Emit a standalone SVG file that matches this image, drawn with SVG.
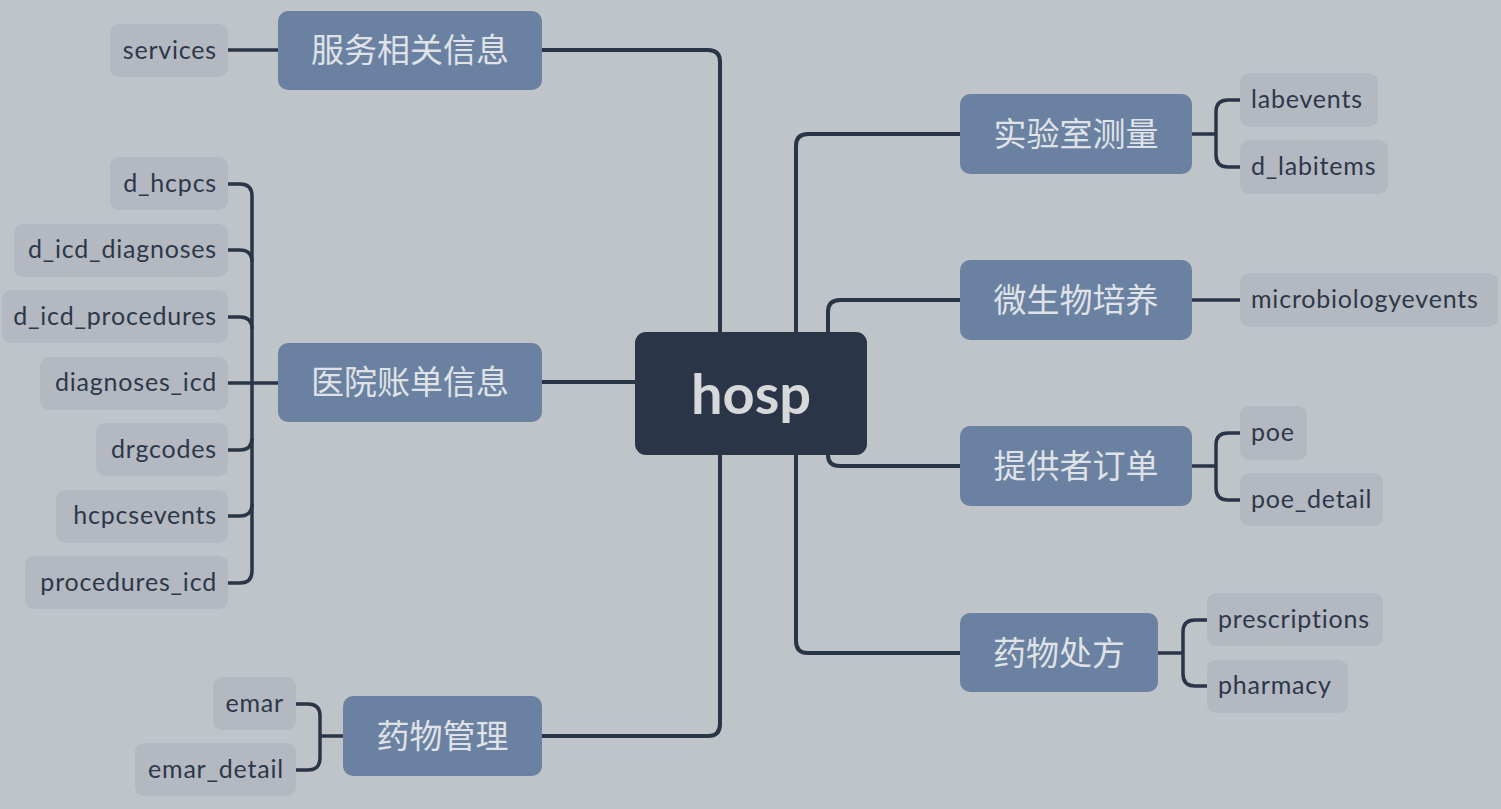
<svg xmlns="http://www.w3.org/2000/svg" width="1501" height="809" viewBox="0 0 1501 809">
<style>
.bg{fill:#bfc4c9}
.root rect{fill:#2a3648}
.root text{fill:#d6d8da;font-family:Lato,"Noto Sans",sans-serif;font-weight:bold;font-size:56px;text-anchor:middle}
.br rect{fill:#6b81a1}
.br text{fill:#dfe2e6;font-family:"Noto Sans CJK SC","Noto Sans",sans-serif;font-size:33px;text-anchor:middle}
.lf rect{fill:#b4b9c1}
.lf text{fill:#2c3849;font-family:Lato,"Noto Sans",sans-serif;font-size:25px;letter-spacing:0.8px}
.l text{text-anchor:end}
.r text{text-anchor:start}
.c path{fill:none;stroke:#2a3648;stroke-width:4;stroke-linecap:butt}
.c .t{stroke-width:3.5}
</style>
<rect class="bg" x="0" y="0" width="1501" height="809"/>
<g class="c" id="connectors">
<path d="M542,50 H708 Q720,50 720,62 V332"/>
<path d="M542,382 H635"/>
<path d="M542,736 H708 Q720,736 720,724 V455"/>
<path d="M796,332 V146 Q796,134 808,134 H960"/>
<path d="M828,332 V312 Q828,300 840,300 H960"/>
<path d="M828,455 Q828,466 840,466 H960"/>
<path d="M796,455 V641 Q796,653 808,653 H960"/>
<path class="t" d="M228,50 H278"/>
<path class="t" d="M228,184 H240 Q252,184 252,196 V571 Q252,583 240,583 H228"/>
<path class="t" d="M228,250 H240 Q252,250 252,262"/>
<path class="t" d="M228,317 H240 Q252,317 252,329"/>
<path class="t" d="M228,383 H278"/>
<path class="t" d="M228,450 H240 Q252,450 252,438"/>
<path class="t" d="M228,516 H240 Q252,516 252,504"/>
<path class="t" d="M296,704 H308 Q320,704 320,716 V758 Q320,770 308,770 H296"/>
<path class="t" d="M320,736 H343"/>
<path class="t" d="M1192,134 H1216"/>
<path class="t" d="M1240,100 H1228 Q1216,100 1216,112 V155 Q1216,167 1228,167 H1240"/>
<path class="t" d="M1192,300 H1240"/>
<path class="t" d="M1192,466 H1216"/>
<path class="t" d="M1240,433 H1228 Q1216,433 1216,445 V488 Q1216,500 1228,500 H1240"/>
<path class="t" d="M1158,653 H1183"/>
<path class="t" d="M1207,620 H1195 Q1183,620 1183,632 V674 Q1183,686 1195,686 H1207"/>
</g>
<g id="hosp" class="root"><rect x="635" y="332" width="232" height="123" rx="11"/><text x="751" y="414">hosp</text></g>
<g id="b-fuwu" class="br"><rect x="278" y="11" width="264" height="79" rx="10"/><text x="410" y="62">服务相关信息</text></g>
<g id="b-zhangdan" class="br"><rect x="278" y="343" width="264" height="79" rx="10"/><text x="410" y="394">医院账单信息</text></g>
<g id="b-guanli" class="br"><rect x="343" y="696" width="199" height="80" rx="10"/><text x="442.5" y="748">药物管理</text></g>
<g id="b-shiyan" class="br"><rect x="960" y="94" width="232" height="80" rx="10"/><text x="1076" y="146">实验室测量</text></g>
<g id="b-weisheng" class="br"><rect x="960" y="260" width="232" height="80" rx="10"/><text x="1076" y="312">微生物培养</text></g>
<g id="b-tigong" class="br"><rect x="960" y="426" width="232" height="80" rx="10"/><text x="1076" y="478">提供者订单</text></g>
<g id="b-chufang" class="br"><rect x="960" y="613" width="198" height="79" rx="10"/><text x="1059" y="665">药物处方</text></g>
<g id="l-services" class="lf l"><rect x="110" y="24" width="118" height="53" rx="9"/><text x="217" y="59">services</text></g>
<g id="l-d_hcpcs" class="lf l"><rect x="110" y="157" width="118" height="53" rx="9"/><text x="217" y="192">d_hcpcs</text></g>
<g id="l-d_icd_diagnoses" class="lf l"><rect x="14" y="224" width="214" height="53" rx="9"/><text x="217" y="258">d_icd_diagnoses</text></g>
<g id="l-d_icd_procedures" class="lf l"><rect x="2" y="290" width="226" height="53" rx="9"/><text x="217" y="325">d_icd_procedures</text></g>
<g id="l-diagnoses_icd" class="lf l"><rect x="40" y="357" width="188" height="53" rx="9"/><text x="217" y="391">diagnoses_icd</text></g>
<g id="l-drgcodes" class="lf l"><rect x="96" y="423" width="132" height="53" rx="9"/><text x="217" y="458">drgcodes</text></g>
<g id="l-hcpcsevents" class="lf l"><rect x="56" y="490" width="172" height="53" rx="9"/><text x="217" y="524">hcpcsevents</text></g>
<g id="l-procedures_icd" class="lf l"><rect x="25" y="556" width="203" height="53" rx="9"/><text x="217" y="591">procedures_icd</text></g>
<g id="l-emar" class="lf l"><rect x="213" y="677" width="83" height="53" rx="9"/><text x="284" y="712">emar</text></g>
<g id="l-emar_detail" class="lf l"><rect x="135" y="743" width="161" height="53" rx="9"/><text x="284" y="778">emar_detail</text></g>
<g id="l-labevents" class="lf r"><rect x="1240" y="73" width="138" height="54" rx="9"/><text x="1251" y="108">labevents</text></g>
<g id="l-d_labitems" class="lf r"><rect x="1240" y="140" width="148" height="54" rx="9"/><text x="1251" y="175">d_labitems</text></g>
<g id="l-microbiologyevents" class="lf r"><rect x="1240" y="273" width="258" height="54" rx="9"/><text x="1251" y="308">microbiologyevents</text></g>
<g id="l-poe" class="lf r"><rect x="1240" y="406" width="67" height="54" rx="9"/><text x="1251" y="441">poe</text></g>
<g id="l-poe_detail" class="lf r"><rect x="1240" y="473" width="143" height="53" rx="9"/><text x="1251" y="508">poe_detail</text></g>
<g id="l-prescriptions" class="lf r"><rect x="1207" y="593" width="176" height="53" rx="9"/><text x="1218" y="628">prescriptions</text></g>
<g id="l-pharmacy" class="lf r"><rect x="1207" y="660" width="141" height="53" rx="9"/><text x="1218" y="694">pharmacy</text></g>
</svg>
